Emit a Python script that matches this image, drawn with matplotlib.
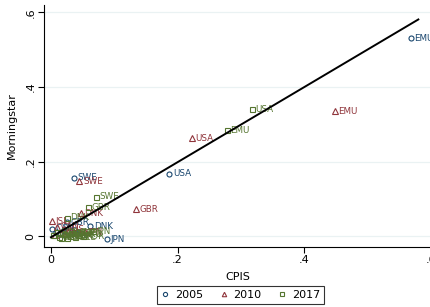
import matplotlib
matplotlib.use("Agg")
import matplotlib.pyplot as plt
from matplotlib.lines import Line2D

# 2005
c05 = ["EMU", "USA", "SWE", "JPN", "DNK", "GBR", "CAN", "AUS", "CHE", "NOR"]
x05 = [0.568, 0.187, 0.036, 0.089, 0.062, 0.025, 0.002, 0.008, 0.015, 0.020]
y05 = [0.531, 0.167, 0.157, -0.009, 0.027, 0.037, 0.020, 0.012, 0.006, 0.002]

# 2010
c10 = ["EMU", "USA", "SWE", "GBR", "DNK", "ISL", "JPN", "CAN", "AUS", "CHE", "NOR"]
x10 = [0.448, 0.223, 0.045, 0.135, 0.047, 0.001, 0.054, 0.010, 0.020, 0.030, 0.006]
y10 = [0.335, 0.262, 0.147, 0.072, 0.061, 0.040, 0.011, 0.025, 0.018, 0.008, 0.004]

# 2017
c17 = ["USA", "EMU", "SWE", "GBR", "DNK", "JPN", "CAN", "AUS", "CHE", "NOR", "NZL",
       "HKG", "SGP", "KOR", "ISR", "BRA", "MEX", "ZAF"]
x17 = [0.317, 0.278, 0.071, 0.059, 0.025, 0.066, 0.004, 0.012, 0.020, 0.030, 0.038,
       0.045, 0.010, 0.050, 0.016, 0.026, 0.034, 0.042]
y17 = [0.340, 0.284, 0.105, 0.077, 0.049, 0.013, 0.003, -0.002, 0.006, 0.001, -0.003,
       0.004, 0.010, 0.000, -0.004, -0.005, 0.008, 0.011]

# fitted line
fit_x = [0.0, 0.58]
fit_y = [-0.003, 0.581]

navy = "#1a476f"
maroon = "#90353b"
green = "#55752f"

fig = plt.figure(figsize=(4.31, 3.07), dpi=100)
ax = fig.add_axes([0.102, 0.195, 0.898, 0.789])

ax.set_xlim(-0.011, 0.60)
ax.set_ylim(-0.0295, 0.62)

for yv in [0, 0.2, 0.4, 0.6]:
    ax.axhline(yv, color="#eaf2f3", lw=0.9, zorder=0)

def series(xs, ys, names, marker, color, ms):
    ax.plot(xs, ys, linestyle="none", marker=marker, markersize=ms,
            markerfacecolor="none", markeredgecolor=color, markeredgewidth=0.8, zorder=3)
    for x, y, n in zip(xs, ys, names):
        ax.annotate(n, (x, y), xytext=(2.5, 0), textcoords="offset points",
                    ha="left", va="center", fontsize=6.3, color=color, zorder=3)

series(x05, y05, c05, "o", navy, 3.6)
series(x10, y10, c10, "^", maroon, 4.0)
series(x17, y17, c17, "s", green, 3.6)

ax.plot(fit_x, fit_y, color="black", lw=1.4, zorder=4)

for s in ["top", "right"]:
    ax.spines[s].set_visible(False)
ax.spines["left"].set_linewidth(0.8)
ax.spines["bottom"].set_linewidth(0.8)

ax.set_xticks([0, 0.2, 0.4, 0.6])
ax.set_xticklabels(["0", ".2", ".4", ".6"])
ax.set_yticks([0, 0.2, 0.4, 0.6])
ax.set_yticklabels(["0", ".2", ".4", ".6"], rotation=90, va="center")
ax.tick_params(direction="out", length=4, width=0.8, labelsize=8, pad=2)

ax.set_xlabel("CPIS", fontsize=8, labelpad=5)
ax.set_ylabel("Morningstar", fontsize=8, labelpad=6)

handles = [
    Line2D([], [], linestyle="none", marker="o", markersize=3.0, markerfacecolor="none",
           markeredgecolor=navy, markeredgewidth=0.8, label="2005"),
    Line2D([], [], linestyle="none", marker="^", markersize=3.2, markerfacecolor="none",
           markeredgecolor=maroon, markeredgewidth=0.8, label="2010"),
    Line2D([], [], linestyle="none", marker="s", markersize=3.0, markerfacecolor="none",
           markeredgecolor=green, markeredgewidth=0.8, label="2017"),
]
leg = fig.legend(handles=handles, loc="lower center", bbox_to_anchor=(0.558, 0.0),
                 ncol=3, fontsize=8, frameon=True, fancybox=False, edgecolor="black",
                 handlelength=0.8, handletextpad=0.5, columnspacing=1.4,
                 borderpad=0.35, borderaxespad=0.3)
leg.get_frame().set_linewidth(0.8)

fig.savefig("out.png", dpi=100)
